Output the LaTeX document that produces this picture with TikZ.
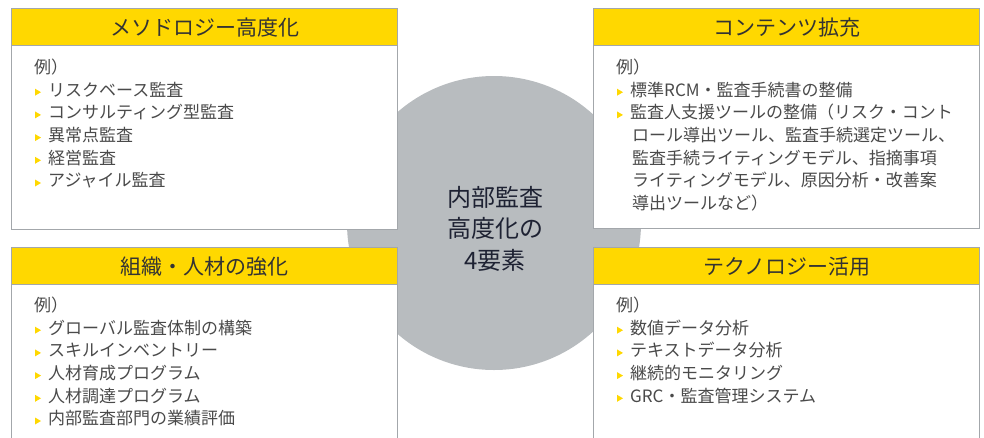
\documentclass[tikz,border=0pt]{standalone}
\usepackage{fontspec}
\newfontfamily\jp{Noto Sans CJK JP}
\definecolor{hdryellow}{HTML}{FFD800}
\definecolor{bordergray}{HTML}{A3A7AB}
\definecolor{circgray}{HTML}{B8BCBF}
\definecolor{bodytext}{HTML}{4A4A4A}
\definecolor{hdrtext}{HTML}{333333}
\definecolor{coretext}{HTML}{1E2233}
\tikzset{
  panel/.style={draw=bordergray, line width=1.4pt, fill=white, inner sep=0pt, anchor=north west, minimum width=386pt},
  header/.style={draw=bordergray, line width=1.4pt, fill=hdryellow, inner sep=0pt, anchor=north west, minimum width=386pt, minimum height=37pt, font=\jp\fontsize{21}{24}\selectfont, text=hdrtext},
  txt/.style={anchor=west, inner sep=0pt, font=\jp\fontsize{17}{20}\selectfont, text=bodytext, text height=0.76em, text depth=0pt},
  bulc/.style={fill=hdryellow},
}
\begin{document}
\begin{tikzpicture}[x=1pt,y=-1pt]
\useasboundingbox (0,0) rectangle (984,437);
\begin{scope}
\clip (0,0) rectangle (984,437);
% central circle
\node[circle, fill=circgray, minimum size=294pt, inner sep=0pt] (core) at (494,223) {};
% panels
\node[panel, minimum height=221pt] (tl) at (11,8) {};
\node[header] (tlh) at (tl.north west) {メソドロジー高度化};
\node[panel, minimum height=220pt] (tr) at (593,8) {};
\node[header] (trh) at (tr.north west) {コンテンツ拡充};
\node[panel, minimum height=215pt] (bl) at (11,247) {};
\node[header] (blh) at (bl.north west) {組織・人材の強化};
\node[panel, minimum height=215pt] (br) at (593,247) {};
\node[header] (brh) at (br.north west) {テクノロジー活用};
% top-left items
\node[txt] (tl0) at (34,69.5) {例）};
\foreach \t [count=\i] in {リスクベース監査,コンサルティング型監査,異常点監査,経営監査,アジャイル監査}{
  \fill[bulc] (35,{69.5+\i*22.7-3.5}) -- ++(6,3.5) -- ++(-6,3.5) -- cycle;
  \node[txt] (tl\i) at (48,{69.5+\i*22.7}) {\t};
}
% top-right items
\node[txt] (tr0) at (616,69.5) {例）};
\fill[bulc] (617,{92.2-3.5}) -- ++(6,3.5) -- ++(-6,3.5) -- cycle;
\node[txt] (tr1) at (630,92.2) {標準RCM・監査手続書の整備};
\fill[bulc] (617,{114.9-3.5}) -- ++(6,3.5) -- ++(-6,3.5) -- cycle;
\node[txt] (tr2) at (630,114.9) {監査人支援ツールの整備（リスク・コント};
\node[txt] (tr3) at (632,137.6) {ロール導出ツール、監査手続選定ツール、};
\node[txt] (tr4) at (632,160.3) {監査手続ライティングモデル、指摘事項};
\node[txt] (tr5) at (632,183.0) {ライティングモデル、原因分析・改善案};
\node[txt] (tr6) at (632,205.7) {導出ツールなど）};
% bottom-left items
\node[txt] (bl0) at (34,307.5) {例）};
\foreach \t [count=\i] in {グローバル監査体制の構築,スキルインベントリー,人材育成プログラム,人材調達プログラム,内部監査部門の業績評価}{
  \fill[bulc] (35,{307.5+\i*22.7-3.5}) -- ++(6,3.5) -- ++(-6,3.5) -- cycle;
  \node[txt] (bl\i) at (48,{307.5+\i*22.7}) {\t};
}
% bottom-right items
\node[txt] (br0) at (616,307.5) {例）};
\foreach \t [count=\i] in {数値データ分析,テキストデータ分析,継続的モニタリング,GRC・監査管理システム}{
  \fill[bulc] (617,{307.5+\i*22.7-3.5}) -- ++(6,3.5) -- ++(-6,3.5) -- cycle;
  \node[txt] (br\i) at (630,{307.5+\i*22.7}) {\t};
}
% central text
\node[align=center, inner sep=0pt, font=\jp\fontsize{24}{31.5}\selectfont, text=coretext] (coretxt) at (495,228.5) {内部監査\\高度化の\\4要素};
\end{scope}
\end{tikzpicture}
\end{document}
